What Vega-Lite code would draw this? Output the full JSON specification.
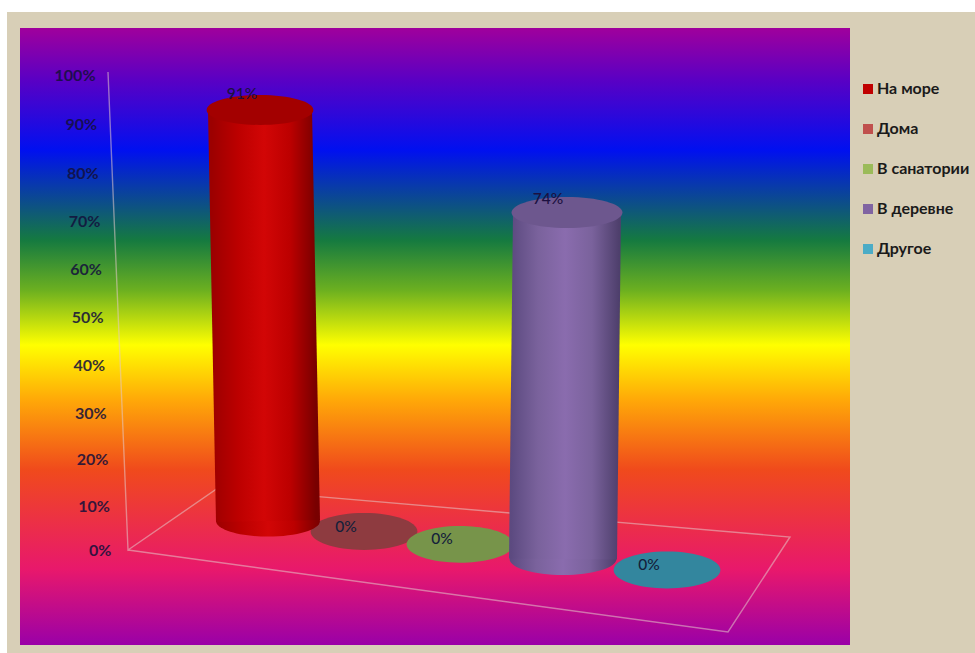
{
"$schema":"https://vega.github.io/schema/vega-lite/v6.json",
"width":830,"height":617,"autosize":"none",
"padding":{"left":20,"top":28,"right":125,"bottom":8},
"background":"#ffffff",
"view":{"stroke":null},
"config":{"font":"Lato","text":{"font":"Lato"}},
"resolve":{"scale":{"x":"independent","y":"independent","color":"independent","fill":"independent"},"axis":{"x":"independent","y":"independent"}},
"layer":[
{"data":{"values":[{"panel":"page"}]},
 "mark":{"type":"rect","fill":"#d8cfb7"},
 "encoding":{
  "x":{"datum":7,"type":"quantitative","axis":null,"scale":{"domain":[0,975],"range":[-20,955]}},
  "x2":{"datum":975},
  "y":{"datum":12,"type":"quantitative","axis":null,"scale":{"domain":[0,653],"range":[-28,625]}},
  "y2":{"datum":653}}},
{"data":{"values":[{"panel":"plot"}]},
 "mark":{"type":"rect","fill":{"gradient":"linear","x1":0,"y1":0,"x2":0,"y2":1,"stops":[
   {"offset":0,"color":"#a0009c"},{"offset":0.084,"color":"#5a00c4"},{"offset":0.198,"color":"#0010f0"},
   {"offset":0.344,"color":"#157a40"},{"offset":0.425,"color":"#6cb020"},{"offset":0.514,"color":"#ffff00"},
   {"offset":0.603,"color":"#ffa808"},{"offset":0.716,"color":"#f04a1c"},{"offset":0.878,"color":"#e8186c"},{"offset":1,"color":"#9a00a8"}]}},
 "encoding":{
  "x":{"datum":20,"type":"quantitative","axis":null,"scale":{"domain":[0,975],"range":[-20,955]}},
  "x2":{"datum":850},
  "y":{"datum":28,"type":"quantitative","axis":null,"scale":{"domain":[0,653],"range":[-28,625]}},
  "y2":{"datum":645}}},
{"data":{"values":[{"n":1,"gx":108,"gy":72},{"n":2,"gx":128,"gy":550},{"n":3,"gx":218,"gy":488},{"n":4,"gx":790,"gy":537},{"n":5,"gx":728,"gy":632},{"n":6,"gx":128,"gy":550}]},
 "mark":{"type":"line","stroke":"#e4c8c8","strokeWidth":1.4,"opacity":0.55},
 "encoding":{
  "order":{"field":"n"},
  "x":{"field":"gx","type":"quantitative","axis":null,"scale":{"domain":[0,975],"range":[-20,955]}},
  "y":{"field":"gy","type":"quantitative","axis":null,"scale":{"domain":[0,653],"range":[-28,625]}}}},
{"data":{"values":[{"tick":0},{"tick":10},{"tick":20},{"tick":30},{"tick":40},{"tick":50},{"tick":60},{"tick":70},{"tick":80},{"tick":90},{"tick":100}]},
 "transform":[{"calculate":"datum.tick+'%'","as":"label"}],
 "mark":{"type":"text","align":"right","baseline":"middle","font":"Lato","fontSize":16,"fontWeight":"bold","fill":"#14103c","opacity":0.85},
 "encoding":{
  "x":{"field":"tick","type":"quantitative","axis":null,"scale":{"domain":[0,100],"range":[91.5,75.5]}},
  "y":{"field":"tick","type":"quantitative","axis":null,"scale":{"type":"pow","exponent":1.03,"domain":[0,100],"range":[523,48]}},
  "text":{"field":"label"}}},
{"data":{"values":[{"category":"Дома","value":0},{"category":"В санатории","value":0},{"category":"Другое","value":0}]},
 "layer":[
  {"mark":{"type":"point","filled":true,"opacity":1,"size":11400,"shape":"M-1,0A1,0.345,0,1,1,1,0A1,0.345,0,1,1,-1,0Z","xOffset":{"expr":"datum.category==='В санатории'?-5:0"}},
   "encoding":{
    "x":{"field":"category","type":"nominal","axis":null,"scale":{"type":"point","padding":0,"domain":["Дома","В санатории","В деревне","Другое"],"range":[344,647]}},
    "y":{"field":"category","type":"nominal","axis":null,"scale":{"type":"point","padding":0,"domain":["Дома","В санатории","В деревне","Другое"],"range":[503.5,542]}},
    "fill":{"field":"category","type":"nominal","legend":null,"scale":{"domain":["Дома","В санатории","Другое"],"range":["#8e3b40","#77944a","#33869e"]}}}},
  {"mark":{"type":"text","font":"Lato","fontSize":15.5,"fontWeight":500,"fill":"#14203a","dy":-5,"dx":-18,"baseline":"middle","xOffset":{"expr":"datum.category==='В санатории'?-5:0"}},
   "transform":[{"calculate":"datum.value+'%'","as":"label"}],
   "encoding":{
    "x":{"field":"category","type":"nominal","axis":null,"scale":{"type":"point","padding":0,"domain":["Дома","В санатории","В деревне","Другое"],"range":[344,647]}},
    "y":{"field":"category","type":"nominal","axis":null,"scale":{"type":"point","padding":0,"domain":["Дома","В санатории","В деревне","Другое"],"range":[503.5,542]}},
    "text":{"field":"label"}}}
 ]},
{"data":{"values":[{"category":"На море","level":0},{"category":"На море","level":91}]},
 "encoding":{
  "x":{"field":"level","type":"quantitative","axis":null,"scale":{"domain":[0,91],"range":[248,240]}},
  "y":{"field":"level","type":"quantitative","axis":null,"scale":{"domain":[0,91],"range":[493,82]}}},
 "layer":[
  {"mark":{"type":"point","filled":true,"opacity":1,"size":10800,"shape":"M-1,0A1,0.3,0,1,1,1,0A1,0.3,0,1,1,-1,0Z","fill":{"gradient":"linear","x1":0,"y1":0,"x2":1,"y2":0,"stops":[{"offset":0,"color":"#9c0000"},{"offset":0.25,"color":"#bc0000"},{"offset":0.5,"color":"#d20606"},{"offset":0.75,"color":"#bc0000"},{"offset":1,"color":"#780000"}]}},"transform":[{"filter":"datum.level==0"}]},
  {"mark":{"type":"line","strokeWidth":104,"strokeCap":"butt","stroke":{"gradient":"linear","x1":-6,"y1":0,"x2":7,"y2":0,"stops":[{"offset":0,"color":"#9c0000"},{"offset":0.25,"color":"#bc0000"},{"offset":0.5,"color":"#d20606"},{"offset":0.75,"color":"#bc0000"},{"offset":1,"color":"#780000"}]}},"encoding":{"order":{"field":"level"}}},
  {"mark":{"type":"point","filled":true,"opacity":1,"size":11400,"shape":"M-1,0A1,0.28,0,1,1,1,0A1,0.28,0,1,1,-1,0Z","fill":"#a30000"},"transform":[{"filter":"datum.level>0"}]},
  {"mark":{"type":"text","font":"Lato","fontSize":15.5,"fontWeight":500,"fill":"#1c1040","dx":-18,"dy":-16,"baseline":"middle"},"transform":[{"filter":"datum.level>0"},{"calculate":"datum.level+'%'","as":"label"}],"encoding":{"text":{"field":"label"}}}
 ]},
{"data":{"values":[{"category":"В деревне","level":0},{"category":"В деревне","level":74}]},
 "encoding":{
  "x":{"field":"level","type":"quantitative","axis":null,"scale":{"domain":[0,74],"range":[543,547]}},
  "y":{"field":"level","type":"quantitative","axis":null,"scale":{"domain":[0,74],"range":[531,184.5]}}},
 "layer":[
  {"mark":{"type":"point","filled":true,"opacity":1,"size":11400,"shape":"M-1,0A1,0.3,0,1,1,1,0A1,0.3,0,1,1,-1,0Z","fill":{"gradient":"linear","x1":0,"y1":0,"x2":1,"y2":0,"stops":[{"offset":0,"color":"#5c4a80"},{"offset":0.25,"color":"#7a629c"},{"offset":0.5,"color":"#8a6cae"},{"offset":0.75,"color":"#7a629c"},{"offset":1,"color":"#4e3f6c"}]}},"transform":[{"filter":"datum.level==0"}]},
  {"mark":{"type":"line","strokeWidth":108,"strokeCap":"butt","stroke":{"gradient":"linear","x1":-13,"y1":0,"x2":14,"y2":0,"stops":[{"offset":0,"color":"#5c4a80"},{"offset":0.25,"color":"#7a629c"},{"offset":0.5,"color":"#8a6cae"},{"offset":0.75,"color":"#7a629c"},{"offset":1,"color":"#4e3f6c"}]}},"encoding":{"order":{"field":"level"}}},
  {"mark":{"type":"point","filled":true,"opacity":1,"size":12300,"shape":"M-1,0A1,0.28,0,1,1,1,0A1,0.28,0,1,1,-1,0Z","fill":"#6d578e"},"transform":[{"filter":"datum.level>0"}]},
  {"mark":{"type":"text","font":"Lato","fontSize":15.5,"fontWeight":500,"fill":"#1c1040","dx":-19,"dy":-14,"baseline":"middle"},"transform":[{"filter":"datum.level>0"},{"calculate":"datum.level+'%'","as":"label"}],"encoding":{"text":{"field":"label"}}}
 ]},
{"data":{"values":[{"category":"На море"},{"category":"Дома"},{"category":"В санатории"},{"category":"В деревне"},{"category":"Другое"}]},
 "mark":{"type":"point","filled":true,"opacity":0},
 "encoding":{
  "color":{"field":"category","type":"nominal","scale":{"domain":["На море","Дома","В санатории","В деревне","Другое"],"range":["#c00000","#c0504d","#9bbb59","#8064a2","#4bacc6"]},
   "legend":{"title":null,"orient":"none","legendX":840,"legendY":53,"padding":0,"symbolType":"square","symbolSize":100,"symbolOpacity":1,"symbolStrokeWidth":0,"labelFont":"Lato","labelFontSize":16,"labelFontWeight":"bold","labelColor":"#1a1a1a","labelOffset":1,"rowPadding":24,"labelLimit":130}}}}
]
}
